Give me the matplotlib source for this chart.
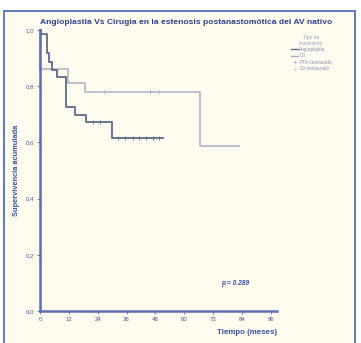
import matplotlib
matplotlib.use("Agg")
import matplotlib.pyplot as plt
from matplotlib.patches import Rectangle
from matplotlib.lines import Line2D
from matplotlib.ticker import FuncFormatter

# Kaplan-Meier steps (months, cumulative survival)
pta_t = [0, 0.5, 2.8, 3.8, 4.9, 6.9, 10.7, 14.6, 19.2, 30.0, 51.0]
pta_s = [1.0, 0.985, 0.917, 0.887, 0.857, 0.833, 0.726, 0.699, 0.673, 0.615, 0.615]
pta_cens_t = [22.0, 25.0, 32.5, 35.5, 38.5, 41.0, 44.0, 47.0, 49.5]
pta_cens_s = [0.673, 0.673, 0.615, 0.615, 0.615, 0.615, 0.615, 0.615, 0.615]

cir_t = [0, 0.2, 11.8, 18.8, 66.4, 82.6]
cir_s = [1.0, 0.86, 0.81, 0.78, 0.586, 0.586]
cir_cens_t = [26.7, 45.8, 49.3]
cir_cens_s = [0.78, 0.78, 0.78]

yticks = [0.0, 0.2, 0.4, 0.6, 0.8, 1.0]
xticks = [0, 12, 24, 36, 48, 60, 72, 84, 96]

W, H = 361, 343
plt.rcParams["font.family"] = ["Liberation Sans", "DejaVu Sans"]
fig = plt.figure(figsize=(W / 100, H / 100), dpi=100, facecolor="white")

# cream panel with blue frame
fig.patches.append(Rectangle((4 / W, -0.01), 351 / W, (H - 11) / H + 0.01, transform=fig.transFigure,
                             facecolor="#fffcef", edgecolor="#5b78c0", linewidth=1.4, zorder=-5))

ax = fig.add_axes([40 / W, (H - 311) / H, (277 - 40) / W, (311 - 30) / H])
ax.set_zorder(2)
ax.set_facecolor("none")
ax.set_xlim(0, 98.5)
ax.set_ylim(0, 1.0)

dark = "#5d6a8a"
light = "#a9aec6"
blue = "#5a6db3"

ax.step(cir_t, cir_s, where="post", color=light, lw=1.1, clip_on=False)
ax.step(pta_t, pta_s, where="post", color=dark, lw=1.3, clip_on=False)
ax.plot(cir_cens_t, cir_cens_s, ls="none", marker="|", ms=3, mew=0.6, color=light)
ax.plot(pta_cens_t, pta_cens_s, ls="none", marker="|", ms=3, mew=0.6, color=dark)

for side in ["top", "right"]:
    ax.spines[side].set_visible(False)
for side in ["left", "bottom"]:
    ax.spines[side].set_color(blue)
    ax.spines[side].set_linewidth(1.8)

ax.set_xticks(xticks)
ax.set_yticks(yticks)
ax.yaxis.set_major_formatter(FuncFormatter(lambda v, p: f"{v:.1f}".replace(".", ",")))
ax.tick_params(axis="both", length=2.5, width=0.6, color=blue, labelsize=4.4,
               labelcolor="#4a5a90", pad=1.5)

ax.set_ylabel("Supervivencia acumulada", fontsize=5.3, color="#3550a8", fontweight="bold", labelpad=4)
ax.text(1.0, -0.075, "Tiempo (meses)", transform=ax.transAxes, ha="right", va="center",
        fontsize=5.7, color="#3550a8", fontweight="bold")
ax.text(0.825, 0.097, "p = 0.289", transform=ax.transAxes, ha="center", va="center",
        fontsize=4.8, color="#3550a8", fontweight="bold", style="italic")

fig.text(40 / W, 1 - 23 / H, "Angioplastia Vs Cirugia en la estenosis postanastomótica del AV nativo",
         ha="left", va="center", fontsize=6.1, color="#2d3f8f", fontweight="bold")

handles = [
    Line2D([], [], color=dark, lw=1.0),
    Line2D([], [], color=light, lw=1.0),
    Line2D([], [], ls="none", marker="+", ms=3, mew=0.5, color=light),
    Line2D([], [], ls="none", marker="+", ms=3, mew=0.5, color="#c8cbd9"),
]
labels = ["Angioplastia", "Cir.", "PTA-censurado", "Cir-censurado"]
leg = fig.legend(handles, labels, title="Tipo de\ntratamiento", loc="upper left",
                 bbox_to_anchor=(288 / W, 1 - 32 / H), frameon=False, fontsize=3.4,
                 title_fontsize=3.4, handlelength=1.6, handletextpad=0.2, labelspacing=0.3,
                 borderpad=0.1)
leg._legend_box.align = "center"
for t in leg.get_texts():
    t.set_color("#8890b0")
leg.get_title().set_color("#9aa0bc")
leg.get_title().set_multialignment("center")

fig.savefig("out.png", dpi=100)
